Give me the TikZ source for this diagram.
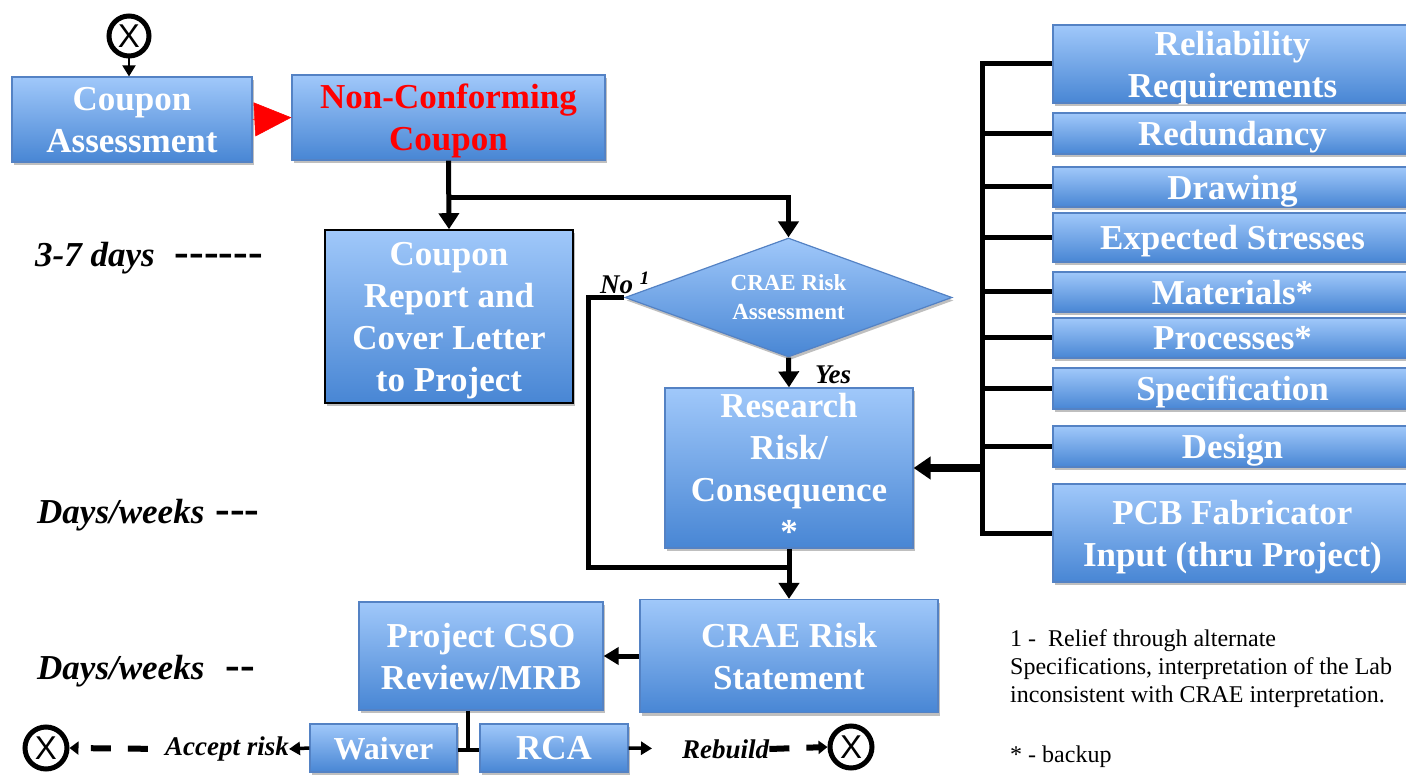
\documentclass[tikz,border=0pt]{standalone}
\usepackage{fontspec}
\setmainfont{Liberation Serif}
\newfontfamily\xfont{Liberation Sans}
\usetikzlibrary{shapes.geometric,arrows.meta,shadows}
\definecolor{boxtop}{RGB}{160,200,250}
\definecolor{boxbot}{RGB}{72,134,212}
\definecolor{boxline}{RGB}{84,130,196}
\newcommand{\dsh}[1]{{\fontsize{44}{44}\selectfont\upshape #1}}
\begin{document}
\begin{tikzpicture}[x=1pt,y=-1pt,
  bluebox/.style={draw=boxline, line width=1.2pt, top color=boxtop, bottom color=boxbot,
    inner sep=0pt, align=center, text=white, text depth=0pt,
    font=\fontsize{35}{42}\selectfont\bfseries,
    drop shadow={opacity=0.25,shadow xshift=1.5pt,shadow yshift=-3pt,fill=black}},
  rbox/.style={bluebox, minimum width=359pt},
  conn/.style={line width=5pt, black},
  tipA/.style={-{Triangle[length=16pt,width=20pt]}},
  tipS/.style={-{Triangle[length=11pt,width=13pt]}},
  lbl/.style={inner sep=0pt, font=\fontsize{35}{42}\selectfont\bfseries\itshape},
  slbl/.style={inner sep=0pt, font=\fontsize{27}{27}\selectfont\bfseries\itshape},
  xcirc/.style={circle, draw, line width=5pt, minimum size=40pt, inner sep=0pt, fill=white,
    font=\xfont\fontsize{33}{33}\selectfont},
  note/.style={inner sep=0pt, align=left, font=\fontsize{24}{28}\selectfont}
]
\useasboundingbox (0,0) rectangle (1406,775);

% ---------- top left ----------
\node[xcirc] (x0) at (129,36) {X};
\node[bluebox, minimum width=240pt, minimum height=85pt] (ca) at (132,119.5) {Coupon\\Assessment};
\node[bluebox, minimum width=313pt, minimum height=85pt, text=red] (nc) at (448.5,117.5) {Non-Conforming\\Coupon};
\node[bluebox, draw=black, line width=1.6pt, minimum width=248pt, minimum height=173pt] (cr) at (449,316.5) {Coupon\\Report and\\Cover Letter\\to Project};

% ---------- centre ----------
\node[bluebox, diamond, aspect=2.75, minimum width=327pt, minimum height=119pt,
  font=\fontsize{23}{29}\selectfont\bfseries] (dia) at (788.5,297.5) {CRAE Risk\\Assessment};
\node[bluebox, minimum width=248pt, minimum height=160pt] (rr) at (789,468) {Research\\Risk/\\Consequence\\*};
\node[bluebox, minimum width=298pt, minimum height=113pt] (rs) at (789,656) {CRAE Risk\\Statement};
\node[bluebox, minimum width=244pt, minimum height=108pt] (pc) at (481,656) {Project CSO\\Review/MRB};
\node[bluebox, minimum width=147pt, minimum height=48pt, font=\fontsize{32}{38}\selectfont\bfseries] (wv) at (383.5,748) {Waiver};
\node[bluebox, minimum width=148pt, minimum height=48pt] (rca) at (554,748) {RCA};

% ---------- right column ----------
\node[rbox, minimum height=78pt] (r1) at (1232.5,64) {Reliability\\Requirements};
\node[rbox, minimum height=41pt] (r2) at (1232.5,133.5) {Redundancy};
\node[rbox, minimum height=40pt] (r3) at (1232.5,187) {Drawing};
\node[rbox, minimum height=49pt] (r4) at (1232.5,237.5) {Expected Stresses};
\node[rbox, minimum height=40pt] (r5) at (1232.5,292) {Materials*};
\node[rbox, minimum height=40pt] (r6) at (1232.5,338) {Processes*};
\node[rbox, minimum height=41pt] (r7) at (1232.5,388.5) {Specification};
\node[rbox, minimum height=41pt] (r8) at (1232.5,446.5) {Design};
\node[rbox, minimum height=98pt] (r9) at (1232.5,533) {PCB Fabricator\\Input (thru Project)};

% ---------- labels ----------
\node[lbl, anchor=west] (t1) at (35,258) {3-7 days\hspace{20pt}\dsh{-{}-{}-{}-{}-{}-}};
\node[lbl, anchor=west] (t2) at (37,515) {Days/weeks\hspace{11pt}\dsh{-{}-{}-}};
\node[lbl, anchor=west] (t3) at (37,671) {Days/weeks\hspace{21pt}\dsh{-{}-}};
\node[slbl, anchor=base west] (no) at (600,294) {No \textsuperscript{1}};
\node[slbl, anchor=base west] (yes) at (815,384) {Yes};
\node[slbl, anchor=east] (al) at (289,749) {Accept risk};
\node[slbl, anchor=west] (rb) at (682,749) {Rebuild};
\node[xcirc, minimum size=42pt] (xl) at (46,748) {X};
\node[xcirc, minimum size=42pt] (xr) at (851,747) {X};
\node[note, anchor=north west] (n1) at (1010,629) {1 -\ \ Relief through alternate\\Specifications, interpretation of the Lab\\inconsistent with CRAE interpretation.};
\node[note, anchor=base west] (n2) at (1010,762) {* - backup};

% ---------- connectors ----------
\draw[line width=2pt, tipS] (x0.south) -- (ca.north -| x0.south);
\draw[red, line width=0.5pt, -{Triangle[length=37pt,width=34pt]}] (ca.east) -- (nc.west);
\coordinate (j1) at (448.5,198);
\draw[conn, tipA] (nc.south) -- (cr.north);
\draw[conn, tipA] (j1) -| (dia.north);
\draw[conn, tipA] (dia.south) -- (rr.north);
\coordinate (nocorner) at (588,297.5);
\coordinate (j2) at (789,567);
\draw[conn] (dia.west) -- (nocorner) |- (j2);
\draw[conn, tipA] (rr.south) -- (rs.north);
\draw[conn, -{Triangle[length=15pt,width=17pt]}] (rs.west) -- (pc.east);

% bus on the right
\coordinate (bus) at (982,0);
\draw[conn] (r1.west) -- (r1.west -| bus) -- (r9.west -| bus) -- (r9.west);
\foreach \r in {r2,r3,r4,r5,r6,r7,r8}{\draw[conn] (\r.west -| bus) -- (\r.west);}
\draw[line width=8pt, -{Triangle[length=17pt,width=22pt]}] (rr.east -| bus) -- (rr.east);

% bottom row
\coordinate (jb) at (468,750);
\draw[line width=4pt] (pc.south -| jb) -- (jb);
\draw[line width=4pt] (wv.east |- jb) -- (rca.west |- jb);
\draw[line width=3.5pt, tipS] (wv.west) -- (al.east);
\draw[line width=6pt, dash pattern=on 20pt off 17pt, shorten <=17pt, -{Triangle[length=9pt,width=13pt]}] (al.west) -- (xl.east);
\draw[line width=3.5pt, tipS, shorten >=30pt] (rca.east) -- (rb.west);
\draw[line width=6pt, dash pattern=on 20pt off 17pt, -{Triangle[length=9pt,width=13pt]}] (rb.east) -- (xr.west);
\end{tikzpicture}
\end{document}
